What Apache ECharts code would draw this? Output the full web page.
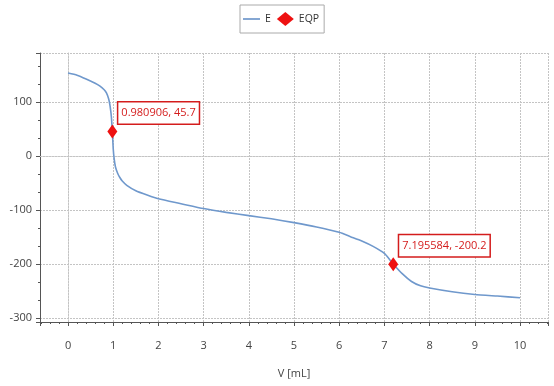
<!DOCTYPE html>
<html><head><meta charset="utf-8">
<script src="https://cdn.jsdelivr.net/npm/echarts@6/dist/echarts.min.js"></script>
<style>html,body{margin:0;padding:0;background:#fff}#c{width:554px;height:386px}</style>
</head><body><div id="c"></div>
<script>
const volume = [0, 0.2, 0.4, 0.6, 0.7, 0.8, 0.85, 0.9, 0.93, 0.96, 0.98, 1.0, 1.02, 1.05, 1.1, 1.15, 1.2, 1.3, 1.5, 1.75, 2, 2.5, 3, 3.5, 4, 4.5, 5, 5.5, 6, 6.25, 6.5, 6.75, 7, 7.2, 7.4, 7.6, 7.8, 8, 8.5, 9, 9.5, 10];
const potential = [154, 150, 143, 135, 130, 123, 117, 106, 93, 72, 45.7, 14, -4, -20, -32, -40, -46, -54, -64, -72, -79, -88, -97, -104, -110, -116, -123, -131, -141, -149, -157, -167, -180, -200, -218, -232, -240, -244, -251, -256, -259, -262];
const eqpV = [0.980906, 7.195584];
const eqpE = [45.7, -200.2];
const eqpLabels = ['0.980906, 45.7', '7.195584, -200.2'];

const chart = echarts.init(document.getElementById('c'));
const font = 'Open Sans';
const gridLine = {show: true, lineStyle: {color: '#c4c4c4', type: [2, 1], width: 1}};
chart.setOption({
  animation: false,
  legend: {
    top: 5, left: 240,
    data: [{name: 'E', icon: 'path://M0,0 H20 V2 H0 Z'}, {name: 'EQP'}],
    itemWidth: 17, itemHeight: 14, itemGap: 6,
    borderColor: '#aaa', borderWidth: 1, padding: [7, 5, 7, 3],
    textStyle: {fontFamily: font, fontSize: 10.5, color: '#333'}
  },
  grid: {left: 40, right: 6, top: 53, bottom: 64},
  xAxis: [{
    type: 'value', min: -0.62, max: 10.62, splitNumber: 10,
    name: 'V [mL]', nameLocation: 'middle', nameGap: 46,
    nameTextStyle: {fontFamily: font, fontSize: 11, color: '#444'},
    axisLine: {show: true, onZero: false, lineStyle: {color: '#555'}},
    axisTick: {show: true, length: 4, lineStyle: {color: '#555'}},
    minorTick: {show: true, splitNumber: 5, length: 2, lineStyle: {color: '#555'}},
    axisLabel: {margin: 18, fontFamily: font, fontSize: 11, color: '#444', showMinLabel: false, showMaxLabel: false,
      formatter: v => (Math.abs(v - Math.round(v)) < 1e-9 ? String(Math.round(v)) : '')},
    splitLine: gridLine
  }, {
    type: 'value', position: 'top', min: -0.62, max: 10.62,
    axisLine: {show: true, lineStyle: {color: '#c4c4c4', type: [2, 1]}},
    axisTick: {show: false}, axisLabel: {show: false}, splitLine: {show: false}
  }],
  yAxis: [{
    type: 'value', min: -307, max: 191, splitNumber: 5,
    axisLine: {show: true, onZero: false, lineStyle: {color: '#555'}},
    axisTick: {show: true, length: 4, lineStyle: {color: '#555'}},
    minorTick: {show: true, splitNumber: 3, length: 2, lineStyle: {color: '#555'}},
    axisLabel: {margin: 8, fontFamily: font, fontSize: 11, color: '#444', showMinLabel: false, showMaxLabel: false},
    splitLine: gridLine
  }, {
    type: 'value', position: 'right', min: -307, max: 191,
    axisLine: {show: true, lineStyle: {color: '#c4c4c4', type: [2, 1]}},
    axisTick: {show: false}, axisLabel: {show: false}, splitLine: {show: false}
  }],
  series: [{
    name: 'E', type: 'line', symbol: 'none', smooth: 0.2,
    data: volume.map((v, i) => [v, potential[i]]),
    lineStyle: {color: '#6f98cc', width: 1.6}, itemStyle: {color: '#6f98cc'}
  }, {
    name: 'EQP', type: 'scatter', symbol: 'diamond', symbolSize: [10, 14],
    itemStyle: {color: '#ee1111', opacity: 1},
    data: eqpV.map((v, i) => ({value: [v, eqpE[i]], label: {formatter: eqpLabels[i]}})),
    label: {
      show: true, position: [11, -22], align: 'left', verticalAlign: 'top',
      fontFamily: font, fontSize: 11, color: '#d41c1c',
      backgroundColor: '#fff', borderColor: '#d41c1c', borderWidth: 1.5,
      padding: [5, 3, 5, 3]
    },
    z: 5
  }]
});
</script></body></html>
